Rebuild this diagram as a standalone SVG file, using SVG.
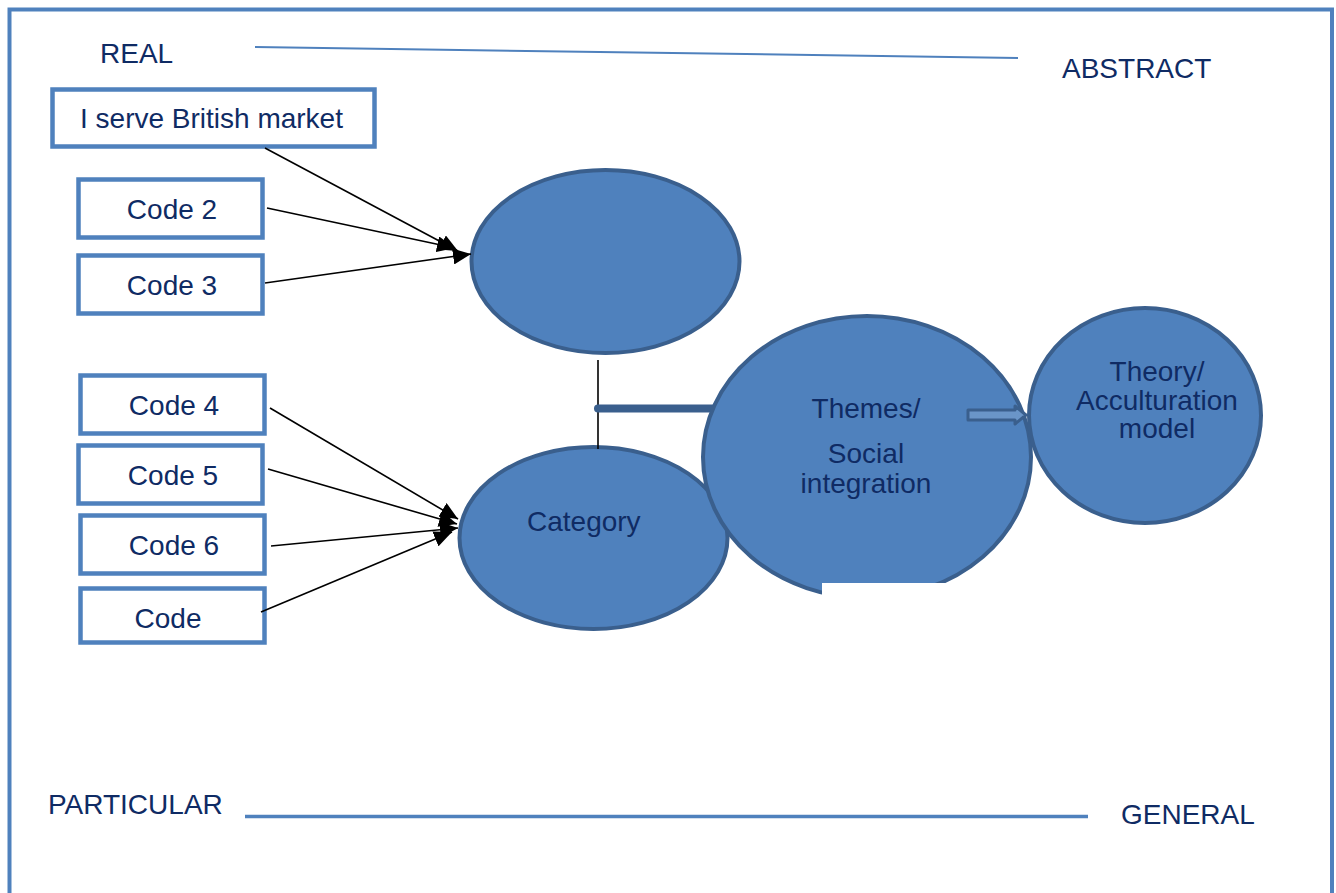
<svg xmlns="http://www.w3.org/2000/svg" width="1336" height="893" viewBox="0 0 1336 893">
<style>
.t{font-family:"Liberation Sans",Arial,sans-serif;font-size:28px;fill:#0f2b64}
.box{fill:#fff;stroke:#4f81bd;stroke-width:4.5}
.ell{fill:#4f81bd;stroke:#3a5f8d;stroke-width:4}
.arr{stroke:#000;stroke-width:1.6;fill:none;marker-end:url(#ah)}
.axis{stroke:#4f81bd;fill:none}
</style>
<defs>
<marker id="ah" markerUnits="userSpaceOnUse" markerWidth="20" markerHeight="16" refX="18" refY="8" orient="auto">
<path d="M0,0 L18,8 L0,16 Z" fill="#000"/>
</marker>
</defs>
<rect x="9.5" y="9.5" width="1322.5" height="900" fill="#fff" stroke="#4f81bd" stroke-width="4"/>
<g id="axes">
<line class="axis" x1="255" y1="47" x2="1018" y2="58" stroke-width="2"/>
<line class="axis" x1="245" y1="816.5" x2="1088" y2="816.5" stroke-width="3.5"/>
<text class="t" x="100" y="63">REAL</text>
<text class="t" x="1062" y="78">ABSTRACT</text>
<text class="t" x="48" y="814">PARTICULAR</text>
<text class="t" x="1121" y="824">GENERAL</text>
</g>
<g id="n1"><rect class="box" x="52.5" y="89.5" width="322" height="57"/><text class="t" x="80" y="128">I serve British market</text></g>
<g id="n2"><rect class="box" x="78.5" y="179.5" width="184" height="58"/><text class="t" x="172" y="219" text-anchor="middle">Code 2</text></g>
<g id="n3"><rect class="box" x="78.5" y="255.5" width="184" height="58"/><text class="t" x="172" y="295" text-anchor="middle">Code 3</text></g>
<g id="n4"><rect class="box" x="80.5" y="375.5" width="184" height="58"/><text class="t" x="174" y="415" text-anchor="middle">Code 4</text></g>
<g id="n5"><rect class="box" x="78.5" y="445.5" width="184" height="58"/><text class="t" x="173" y="485" text-anchor="middle">Code 5</text></g>
<g id="n6"><rect class="box" x="80.5" y="515.5" width="184" height="58"/><text class="t" x="174" y="555" text-anchor="middle">Code 6</text></g>
<g id="n7"><rect class="box" x="80.5" y="588.5" width="184" height="54"/><text class="t" x="168" y="628" text-anchor="middle">Code</text></g>
<g id="top"><ellipse class="ell" cx="605.5" cy="261.5" rx="134" ry="91.5"/></g>
<g id="category"><ellipse class="ell" cx="593.5" cy="538" rx="134" ry="91"/><text class="t" x="527" y="531">Category</text></g>
<g id="connectors">
<line x1="598" y1="360" x2="598" y2="449" stroke="#000" stroke-width="1.6"/>
<line x1="598" y1="408.5" x2="712" y2="408.5" stroke="#3a5f8d" stroke-width="8" stroke-linecap="round"/>
<line class="arr" x1="265" y1="148" x2="458" y2="251"/>
<line class="arr" x1="267" y1="208" x2="455" y2="248"/>
<line class="arr" x1="265" y1="283" x2="471" y2="254"/>
<line class="arr" x1="270" y1="408" x2="458" y2="519"/>
<line class="arr" x1="268" y1="469" x2="457" y2="524"/>
<line class="arr" x1="271" y1="546" x2="458" y2="528"/>
<line class="arr" x1="261" y1="612" x2="452" y2="532"/>
</g>
<g id="themes"><ellipse class="ell" cx="867" cy="457" rx="164" ry="141"/>
<rect x="822" y="583" width="128" height="25" fill="#fff"/>
<text class="t" x="866" y="418" text-anchor="middle">Themes/</text>
<text class="t" x="866" y="463" text-anchor="middle">Social</text>
<text class="t" x="866" y="493" text-anchor="middle">integration</text>
</g>
<g id="theory"><ellipse class="ell" cx="1145" cy="415.5" rx="116" ry="107.5"/>
<text class="t" x="1157" y="381" text-anchor="middle">Theory/</text>
<text class="t" x="1157" y="410" text-anchor="middle">Acculturation</text>
<text class="t" x="1157" y="438" text-anchor="middle">model</text>
</g>
<g id="blockarrow">
<path d="M968,410 L1015,410 L1015,406 L1026,415 L1015,424 L1015,420 L968,420 Z" fill="#6a95c8" stroke="#3a5f8d" stroke-width="3" stroke-linejoin="round"/>
</g>
</svg>
